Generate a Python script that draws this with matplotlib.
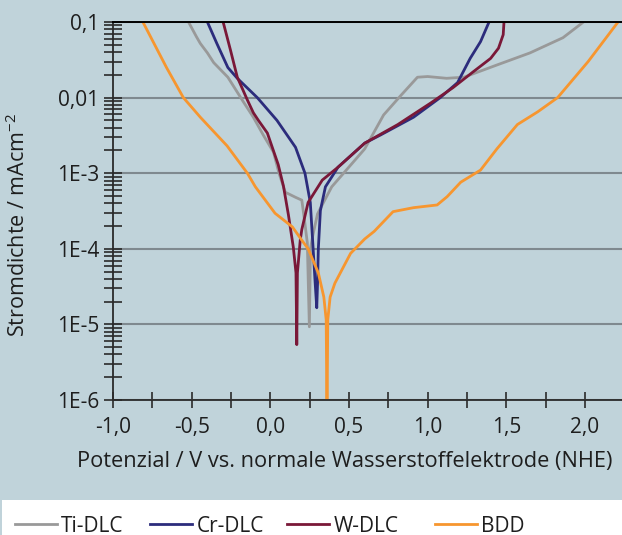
import matplotlib
matplotlib.use("Agg")
import matplotlib.pyplot as plt
from matplotlib.patches import Rectangle
from matplotlib.ticker import FixedLocator, NullFormatter

plt.rcParams['font.family'] = ['Open Sans', 'DejaVu Sans']
plt.rcParams['mathtext.default'] = 'regular'

# Potential (V vs. NHE) and current density (mA/cm^2)
ti_x = [-0.52, -0.47, -0.445, -0.40, -0.36, -0.27, -0.17, -0.108, -0.045, 0.02, 0.055, 0.095,
        0.16, 0.20, 0.217, 0.235, 0.248, 0.255, 0.27, 0.30, 0.39, 0.52, 0.60, 0.72, 0.83,
        0.935, 1.00, 1.12, 1.23, 1.44, 1.65, 1.86, 1.99]
ti_y = [0.1, 0.064, 0.052, 0.039, 0.029, 0.0186, 0.0087, 0.0055, 0.0032, 0.0019, 1.0e-3, 5.6e-4,
        4.8e-4, 4.4e-4, 2.4e-4, 1.2e-4, 9.3e-6, 1.0e-4, 1.5e-4, 2.9e-4, 6.6e-4, 1.35e-3, 2.1e-3, 5.9e-3, 0.0107,
        0.0186, 0.019, 0.018, 0.0186, 0.027, 0.039, 0.062, 0.1]

cr_x = [-0.40, -0.34, -0.27, -0.21, -0.083, 0.042, 0.16, 0.22, 0.254, 0.272, 0.285, 0.295,
        0.30, 0.305, 0.318, 0.35, 0.43, 0.60, 0.70, 0.91, 1.08, 1.19, 1.27, 1.336, 1.39]
cr_y = [0.1, 0.052, 0.025, 0.018, 0.01, 0.005, 0.0022, 1.0e-3, 4.1e-4, 1.0e-4, 3.5e-5, 1.66e-5,
        3.5e-5, 1.0e-4, 3.2e-4, 6.6e-4, 1.2e-3, 2.5e-3, 3.2e-3, 5.5e-3, 0.01, 0.0158, 0.033, 0.055, 0.1]

w_x = [-0.30, -0.254, -0.21, -0.146, -0.108, -0.076, -0.019, 0.05, 0.083, 0.115, 0.146, 0.163,
       0.168, 0.172, 0.19, 0.20, 0.24, 0.33, 0.43, 0.60, 0.81, 1.02, 1.16, 1.29, 1.40, 1.45,
       1.48, 1.485]
w_y = [0.1, 0.043, 0.0186, 0.0093, 0.0063, 0.005, 0.0034, 1.3e-3, 6.8e-4, 2.8e-4, 1.05e-4, 4.8e-5,
       5.4e-6, 4.8e-5, 1.3e-4, 1.8e-4, 4.1e-4, 8.1e-4, 1.2e-3, 2.5e-3, 4.4e-3, 8.5e-3, 0.0135, 0.022, 0.033, 0.045,
       0.068, 0.1]

bdd_x = [-0.81, -0.66, -0.553, -0.445, -0.275, -0.146, -0.095, 0.03, 0.14, 0.20, 0.24, 0.305,
         0.34, 0.355, 0.36, 0.365, 0.38, 0.41, 0.51, 0.60, 0.66, 0.78, 0.91, 1.06, 1.124,
         1.21, 1.336, 1.44, 1.57, 1.70, 1.826, 2.02, 2.21]
bdd_y = [0.1, 0.025, 0.01, 0.0055, 0.0023, 1.0e-3, 6.6e-4, 2.95e-4, 1.95e-4, 1.3e-4, 1.0e-4, 4.8e-5,
         2.3e-5, 1.15e-5, 5e-7, 1.15e-5, 2.3e-5, 3.5e-5, 8.7e-5, 1.35e-4, 1.7e-4, 3.1e-4, 3.5e-4, 3.8e-4, 4.9e-4,
         7.6e-4, 1.1e-3, 2.1e-3, 4.4e-3, 6.5e-3, 0.01, 0.03, 0.1]

labels = ['Ti-DLC', 'Cr-DLC', 'W-DLC', 'BDD']
colors = ['#999999', '#2c2c7c', '#7a1838', '#f7962f']
legend_x_px = [15, 150, 287, 435]  # where each legend sample line starts

x_ticks = [-1.0, -0.5, 0.0, 0.5, 1.0, 1.5, 2.0]
x_ticklabels = ['-1,0', '-0,5', '0,0', '0,5', '1,0', '1,5', '2,0']
y_ticks = [1e-6, 1e-5, 1e-4, 1e-3, 1e-2, 1e-1]
y_ticklabels = ['1E-6', '1E-5', '1E-4', '1E-3', '0,01', '0,1']

bg = '#c0d3da'
fig = plt.figure(figsize=(6.22, 5.35), dpi=100, facecolor=bg)
ax = fig.add_axes([113 / 622, 135 / 535, 509 / 622, 378 / 535])
ax.set_facecolor(bg)

lines = []
for xs, ys, lab, c in zip([ti_x, cr_x, w_x, bdd_x], [ti_y, cr_y, w_y, bdd_y], labels, colors):
    ln, = ax.plot(xs, ys, color=c, lw=2.0, label=lab, solid_joinstyle='round')
    lines.append(ln)

ax.set_yscale('log')
ax.set_xlim(-1.0, 2.235)
ax.set_ylim(1e-6, 0.1)

ax.yaxis.set_major_locator(FixedLocator(y_ticks))
ax.set_yticklabels(y_ticklabels)
minor_y = [m * 10.0 ** e for e in range(-6, -1) for m in range(2, 10)]
ax.yaxis.set_minor_locator(FixedLocator(minor_y))
ax.yaxis.set_minor_formatter(NullFormatter())
ax.set_xticks(x_ticks)
ax.set_xticklabels(x_ticklabels)
ax.xaxis.set_minor_locator(FixedLocator([-0.75, -0.25, 0.25, 0.75, 1.25, 1.75]))

ax.grid(True, which='major', axis='y', color='#7f898f', lw=1.5)
ax.set_axisbelow(True)

tick_col = '#2a2a2a'
ax.tick_params(axis='x', which='both', direction='inout', length=12, width=1.2,
               colors=tick_col, labelsize=15, pad=6)
ax.tick_params(axis='y', which='both', direction='inout', length=13.5, width=1.2,
               colors=tick_col, labelsize=15, pad=3)
for lab in ax.get_xticklabels() + ax.get_yticklabels():
    lab.set_color('#1e1e1e')

ax.spines['right'].set_visible(False)
ax.spines['top'].set_color('black')
ax.spines['top'].set_linewidth(1.4)
for s in ['left', 'bottom']:
    ax.spines[s].set_color(tick_col)
    ax.spines[s].set_linewidth(1.3)

fig.text(345 / 622, 1 - 462 / 535, 'Potenzial / V vs. normale Wasserstoffelektrode (NHE)',
         ha='center', va='center', fontsize=15.7, color='#1e1e1e')
fig.text(18 / 622, 1 - 225 / 535, 'Stromdichte / mAcm$^{-2}$', rotation=90,
         ha='center', va='center', fontsize=15.5, color='#1e1e1e')

# white legend strip at the bottom
fig.patches.append(Rectangle((2 / 622, 0), 1, 35 / 535, transform=fig.transFigure,
                             facecolor='white', edgecolor='none', zorder=0))
for ln, px in zip(lines, legend_x_px):
    fig.legend(handles=[ln], loc='center left', bbox_to_anchor=(px / 622, 1 - 526 / 535),
               frameon=False, fontsize=15, handlelength=2.0, handletextpad=0.22,
               borderpad=0, borderaxespad=0, labelcolor='#1e1e1e')

fig.savefig('out.png', dpi=100, facecolor=bg)
